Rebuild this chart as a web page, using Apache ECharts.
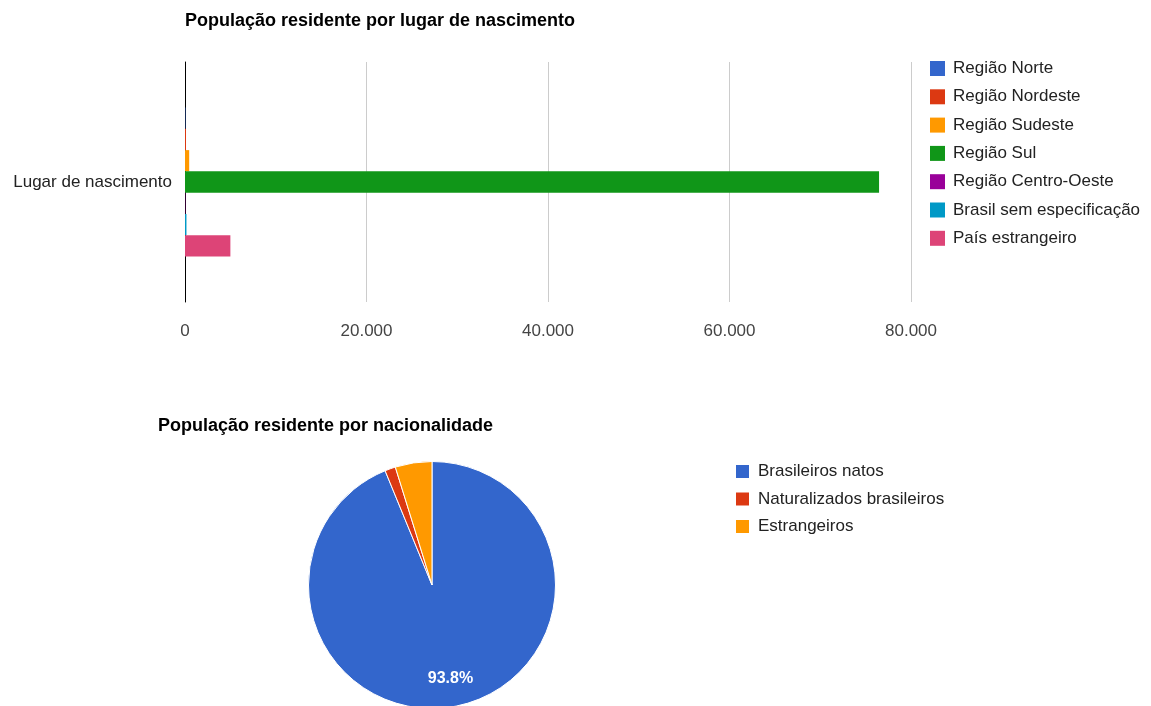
<!DOCTYPE html>
<html>
<head>
<meta charset="utf-8">
<title>População residente</title>
<script src="https://cdn.jsdelivr.net/npm/echarts@6/dist/echarts.min.js"></script>
<style>
  html, body { margin: 0; padding: 0; background: #fff; }
  #chart { width: 1151px; height: 706px; }
</style>
</head>
<body>
<div id="chart"></div>
<script>
// População residente por lugar de nascimento
const birthCategories = ['Lugar de nascimento'];
const birthRegions = ['Região Norte', 'Região Nordeste', 'Região Sudeste', 'Região Sul',
                      'Região Centro-Oeste', 'Brasil sem especificação', 'País estrangeiro'];
const birthValues = [45, 110, 460, 76480, 35, 160, 5000];
const birthColors = ['#3366cc', '#dc3912', '#ff9900', '#109618', '#990099', '#0099c6', '#dd4477'];
const xTicks = { min: 0, max: 80000, interval: 20000 };

// População residente por nacionalidade
const nationalityNames = ['Brasileiros natos', 'Naturalizados brasileiros', 'Estrangeiros'];
const nationalityValues = [77190, 1150, 3950];
const nationalityColors = ['#3366cc', '#dc3912', '#ff9900'];

const FONT = "'Liberation Sans', Arial, sans-serif";

function thousands(v) {
  return String(v).replace(/\B(?=(\d{3})+(?!\d))/g, '.');
}

const barSeries = birthRegions.map((name, i) => ({
  name: name,
  type: 'bar',
  data: [birthValues[i]],
  itemStyle: { color: birthColors[i] },
  barGap: 0,
  barCategoryGap: '38%'
}));

const pieData = nationalityNames.map((name, i) => ({
  name: name,
  value: nationalityValues[i],
  itemStyle: { color: nationalityColors[i] }
}));

const chart = echarts.init(document.getElementById('chart'), null, { renderer: 'canvas' });

chart.setOption({
  backgroundColor: '#ffffff',
  animation: false,
  textStyle: { fontFamily: FONT },
  title: [
    {
      text: 'População residente por lugar de nascimento',
      left: 185, top: 12, padding: 0,
      textStyle: { fontFamily: FONT, fontSize: 18, fontWeight: 'bold', color: '#000' }
    },
    {
      text: 'População residente por nacionalidade',
      left: 158, top: 417, padding: 0,
      textStyle: { fontFamily: FONT, fontSize: 18, fontWeight: 'bold', color: '#000' }
    }
  ],
  legend: [
    {
      data: birthRegions,
      orient: 'vertical',
      left: 930, top: 60, padding: 0,
      itemWidth: 15, itemHeight: 15, itemGap: 11.3,
      icon: 'rect',
      textStyle: { fontFamily: FONT, fontSize: 17, color: '#222', padding: [0, 0, 0, 3] }
    },
    {
      data: nationalityNames,
      orient: 'vertical',
      left: 734, top: 463, padding: 0,
      itemWidth: 15, itemHeight: 15, itemGap: 10.5,
      icon: 'rect',
      textStyle: { fontFamily: FONT, fontSize: 17, color: '#222', padding: [0, 0, 0, 3] }
    }
  ],
  grid: { left: 185, right: 240, top: 62, bottom: 404, containLabel: false },
  xAxis: {
    type: 'value',
    min: xTicks.min, max: xTicks.max, interval: xTicks.interval,
    axisLine: { show: false },
    axisTick: { show: false },
    splitLine: { lineStyle: { color: '#cccccc', width: 1 } },
    axisLabel: {
      color: '#444', fontSize: 17, fontFamily: FONT, margin: 21,
      formatter: thousands
    }
  },
  yAxis: {
    type: 'category',
    data: birthCategories,
    inverse: true,
    axisLine: { show: true, lineStyle: { color: '#000', width: 1 } },
    axisTick: { show: false },
    axisLabel: { color: '#222', fontSize: 17, fontFamily: FONT, margin: 13 }
  },
  series: barSeries.concat([
    {
      name: 'Nacionalidade',
      type: 'pie',
      center: [432, 585],
      radius: 123.5,
      startAngle: 90,
      clockwise: true,
      data: pieData,
      label: { show: false },
      labelLine: { show: false },
      itemStyle: { borderColor: '#ffffff', borderWidth: 1 },
      emphasis: { scale: false }
    },
    {
      // percentage labels placed at three quarters of the radius
      name: 'Nacionalidade (rótulos)',
      type: 'pie',
      center: [432, 585],
      radius: [61.75, 123.5],
      startAngle: 90,
      clockwise: true,
      silent: true,
      data: nationalityNames.map((name, i) => ({ name: name, value: nationalityValues[i] })),
      itemStyle: { color: 'rgba(0,0,0,0)' },
      labelLine: { show: false },
      label: {
        show: true,
        position: 'inside',
        color: '#ffffff',
        fontSize: 16,
        fontWeight: 'bold',
        fontFamily: FONT,
        formatter: p => (p.percent >= 5 ? p.percent.toFixed(1) + '%' : '')
      },
      emphasis: { disabled: true }
    }
  ])
});
</script>
</body>
</html>
